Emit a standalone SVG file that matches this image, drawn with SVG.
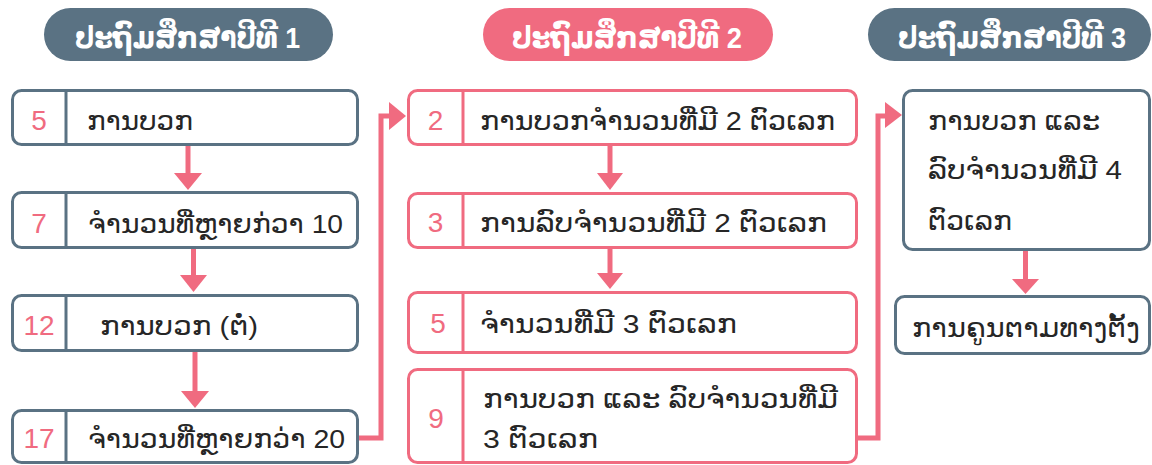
<svg xmlns="http://www.w3.org/2000/svg" width="1152" height="465" viewBox="0 0 1152 465">
<style>
.bg{fill:#ffffff}
.sbox{fill:#ffffff;stroke:#5a7283;stroke-width:3}
.pbox{fill:#ffffff;stroke:#f06b80;stroke-width:3}
.sdiv{stroke:#5a7283;stroke-width:3}
.pdiv{stroke:#f06b80;stroke-width:3}
.spill{fill:#5a7283}
.ppill{fill:#f06b80}
.htxt{font-family:"Liberation Sans","DejaVu Sans",sans-serif;font-size:30px;fill:#ffffff;font-weight:600}
.txt{font-family:"Liberation Sans","DejaVu Sans",sans-serif;font-size:26px;fill:#262626}
.num{font-family:"Liberation Sans","DejaVu Sans",sans-serif;font-size:28px;fill:#f06b80;text-anchor:middle}
.line{fill:none;stroke:#f06b80;stroke-width:5}
.head{fill:#f06b80}
</style>
<rect class="bg" x="0" y="0" width="1152" height="465"/>

<g id="header1">
<rect class="spill" x="44" y="8" width="289" height="53" rx="26.5"/>
<text class="htxt" x="75" y="48" textLength="225" lengthAdjust="spacingAndGlyphs">ປະຖົມສຶກສາປີທີ 1</text>
</g>
<g id="header2">
<rect class="ppill" x="483" y="8" width="290" height="53" rx="26.5"/>
<text class="htxt" x="512" y="48" textLength="230" lengthAdjust="spacingAndGlyphs">ປະຖົມສຶກສາປີທີ 2</text>
</g>
<g id="header3">
<rect class="spill" x="868" y="8" width="283" height="53" rx="26.5"/>
<text class="htxt" x="898" y="48" textLength="228" lengthAdjust="spacingAndGlyphs">ປະຖົມສຶກສາປີທີ 3</text>
</g>

<g id="c1b1">
<rect class="sbox" x="12.5" y="90.5" width="345" height="54" rx="9"/>
<line class="sdiv" x1="66" y1="90.5" x2="66" y2="144.5"/>
<text class="num" x="39" y="130">5</text>
<text class="txt" x="87" y="130" textLength="106" lengthAdjust="spacingAndGlyphs">ການບວກ</text>
</g>
<g id="c1b2">
<rect class="sbox" x="12.5" y="192.5" width="345" height="55" rx="9"/>
<line class="sdiv" x1="66" y1="192.5" x2="66" y2="247.5"/>
<text class="num" x="39" y="233">7</text>
<text class="txt" x="88" y="233" textLength="255" lengthAdjust="spacingAndGlyphs">ຈຳນວນທີ່ຫຼາຍກ່ວາ 10</text>
</g>
<g id="c1b3">
<rect class="sbox" x="12.5" y="295.5" width="345" height="55" rx="9"/>
<line class="sdiv" x1="66" y1="295.5" x2="66" y2="350.5"/>
<text class="num" x="39" y="335">12</text>
<text class="txt" x="100" y="335" textLength="158" lengthAdjust="spacingAndGlyphs">ການບວກ (ຕໍ່)</text>
</g>
<g id="c1b4">
<rect class="sbox" x="12.5" y="410.5" width="345" height="52" rx="9"/>
<line class="sdiv" x1="66" y1="410.5" x2="66" y2="462.5"/>
<text class="num" x="39" y="448">17</text>
<text class="txt" x="88" y="448" textLength="257" lengthAdjust="spacingAndGlyphs">ຈຳນວນທີ່ຫຼາຍກວ່າ 20</text>
</g>

<g id="c2b1">
<rect class="pbox" x="408.5" y="90.5" width="448" height="54" rx="9"/>
<line class="pdiv" x1="463" y1="90.5" x2="463" y2="144.5"/>
<text class="num" x="435.5" y="130">2</text>
<text class="txt" x="480" y="130" textLength="355" lengthAdjust="spacingAndGlyphs">ການບວກຈຳນວນທີ່ມີ 2 ຕົວເລກ</text>
</g>
<g id="c2b2">
<rect class="pbox" x="408.5" y="193.5" width="448" height="54" rx="9"/>
<line class="pdiv" x1="463" y1="193.5" x2="463" y2="247.5"/>
<text class="num" x="435.5" y="232">3</text>
<text class="txt" x="480" y="232" textLength="347" lengthAdjust="spacingAndGlyphs">ການລົບຈຳນວນທີ່ມີ 2 ຕົວເລກ</text>
</g>
<g id="c2b3">
<rect class="pbox" x="408.5" y="292.5" width="448" height="60" rx="9"/>
<line class="pdiv" x1="463" y1="292.5" x2="463" y2="352.5"/>
<text class="num" x="438" y="333">5</text>
<text class="txt" x="480" y="333" textLength="257" lengthAdjust="spacingAndGlyphs">ຈຳນວນທີ່ມີ 3 ຕົວເລກ</text>
</g>
<g id="c2b4">
<rect class="pbox" x="408.5" y="369.5" width="448" height="93" rx="9"/>
<line class="pdiv" x1="463" y1="369.5" x2="463" y2="462.5"/>
<text class="num" x="436" y="428">9</text>
<text class="txt" x="483" y="408" textLength="355" lengthAdjust="spacingAndGlyphs">ການບວກ ແລະ ລົບຈຳນວນທີ່ມີ</text>
<text class="txt" x="483" y="448" textLength="115" lengthAdjust="spacingAndGlyphs">3 ຕົວເລກ</text>
</g>

<g id="c3b1">
<rect class="sbox" x="903.5" y="90.5" width="246" height="159" rx="9"/>
<text class="txt" x="928" y="130" textLength="172" lengthAdjust="spacingAndGlyphs">ການບວກ ແລະ</text>
<text class="txt" x="928" y="179" textLength="194" lengthAdjust="spacingAndGlyphs">ລົບຈຳນວນທີ່ມີ 4</text>
<text class="txt" x="928" y="230" textLength="84" lengthAdjust="spacingAndGlyphs">ຕົວເລກ</text>
</g>
<g id="c3b2">
<rect class="sbox" x="895.5" y="296.5" width="254" height="57" rx="9"/>
<text class="txt" x="912" y="337" textLength="228" lengthAdjust="spacingAndGlyphs">ການຄູນຕາມທາງຕັ້ງ</text>
</g>

<g id="connectors">
<line class="line" x1="188" y1="146" x2="188" y2="175"/>
<polygon class="head" points="174,173 202,173 188,190"/>
<line class="line" x1="193.5" y1="249" x2="193.5" y2="277"/>
<polygon class="head" points="180,275 207,275 193.5,292"/>
<line class="line" x1="195" y1="352" x2="195" y2="393"/>
<polygon class="head" points="181,391 209,391 195,408"/>

<line class="line" x1="610" y1="146" x2="610" y2="175"/>
<polygon class="head" points="597,173 623,173 610,190"/>
<line class="line" x1="610" y1="249" x2="610" y2="275"/>
<polygon class="head" points="597,273 623,273 610,289"/>

<line class="line" x1="1025.5" y1="251" x2="1025.5" y2="281"/>
<polygon class="head" points="1012,279 1039,279 1025.5,294"/>

<polyline class="line" points="359,438 381,438 381,116 391,116"/>
<polygon class="head" points="389,102 389,130 406,116"/>
<polyline class="line" points="858,438 878,438 878,116 887,116"/>
<polygon class="head" points="885,102 885,128 902,115"/>
</g>
</svg>
